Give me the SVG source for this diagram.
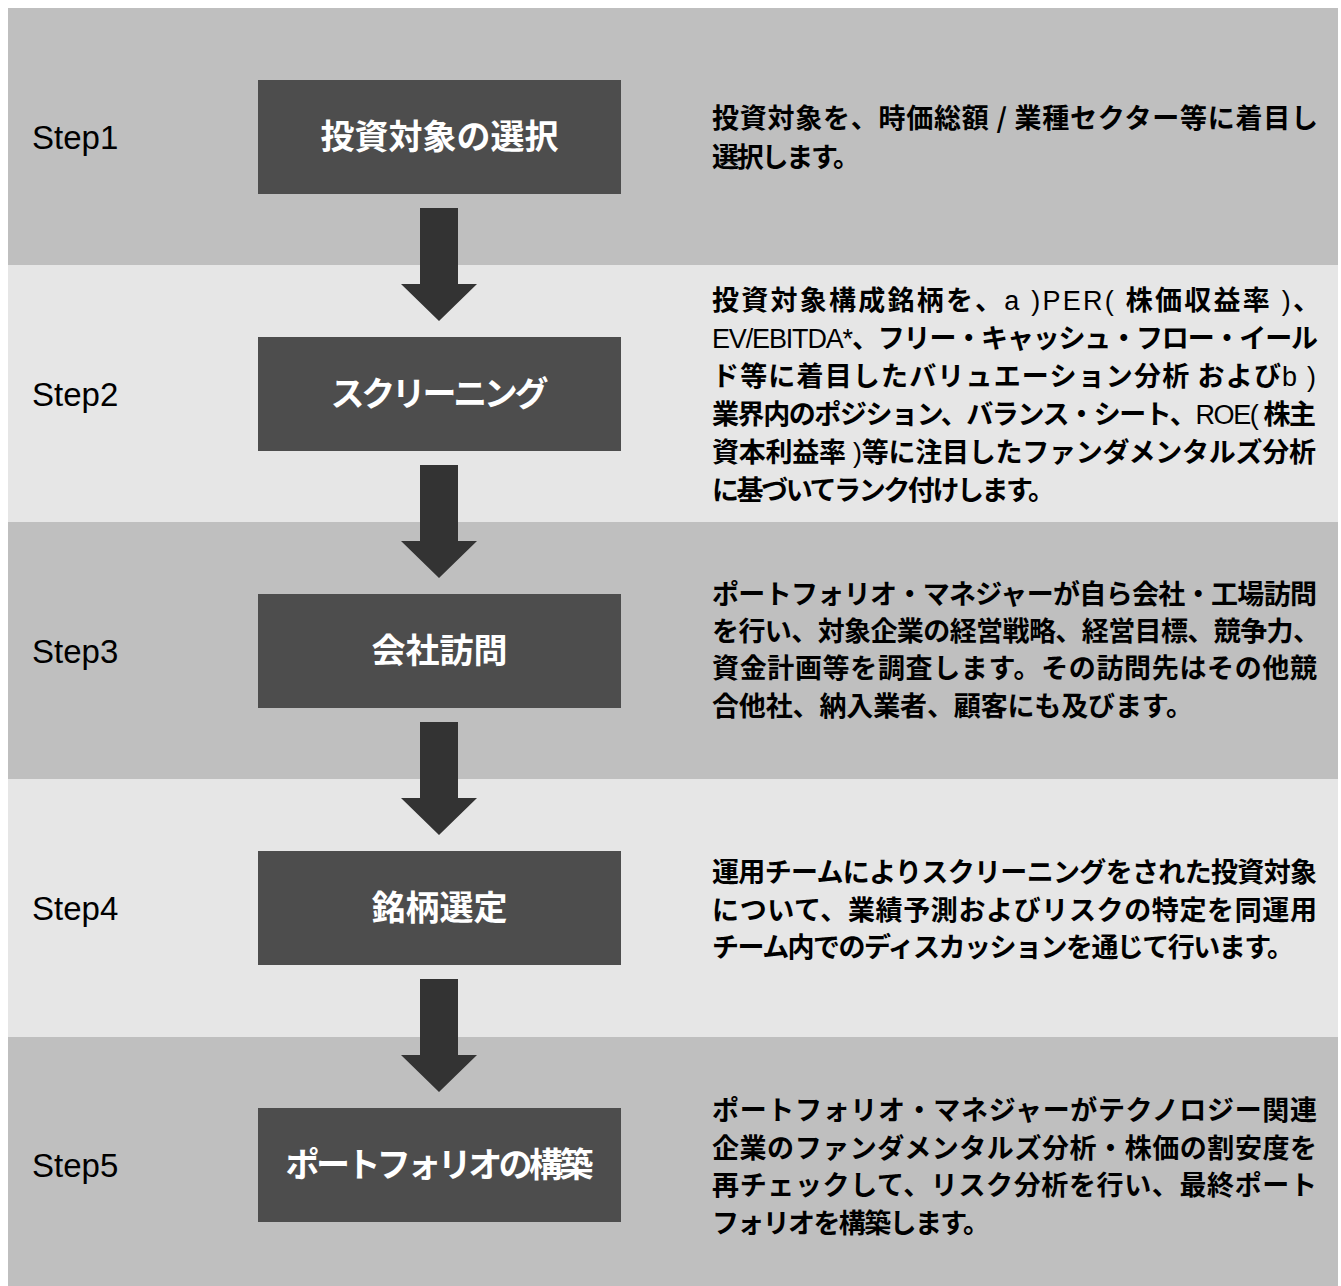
<svg xmlns="http://www.w3.org/2000/svg" width="1341" height="1286" viewBox="0 0 1341 1286">
<style>
.bd{fill:#bfbfbf}.bl{fill:#e6e6e6}
.box{fill:#4d4d4d}
.step{font-family:"Liberation Sans",Arial,sans-serif;font-size:33px;fill:#000}
.bt{font-family:"Noto Sans CJK JP",sans-serif;font-size:34px;font-weight:bold;fill:#fff;text-anchor:middle}
.dt{font-family:"Noto Sans CJK JP",sans-serif;font-size:27px;font-weight:bold;fill:#000}
.lt{font-family:"Liberation Sans",Arial,sans-serif;font-weight:normal}
.arr{fill:#333}
</style>
<defs>
<path id="arrow" d="M420,208 H458 V284 H477 L439,321 L401,284 H420 Z"/>
</defs>
<g id="bands">
<rect class="bd" x="8" y="8" width="1330" height="257"/>
<rect class="bl" x="8" y="265" width="1330" height="257"/>
<rect class="bd" x="8" y="522" width="1330" height="257"/>
<rect class="bl" x="8" y="779" width="1330" height="258"/>
<rect class="bd" x="8" y="1037" width="1330" height="249"/>
</g>
<g id="connectors" class="arr">
<use href="#arrow"/>
<use href="#arrow" transform="translate(0,257)"/>
<use href="#arrow" transform="translate(0,514)"/>
<use href="#arrow" transform="translate(0,771)"/>
</g>
<g id="step1">
<text class="step" x="32" y="149">Step1</text>
<rect class="box" x="258" y="80" width="363" height="114"/>
<text class="bt" x="439.5" y="149">投資対象の選択</text>
<text class="dt" x="712" y="128" textLength="606" lengthAdjust="spacing">投資対象を、時価総額 / 業種セクター等に着目し</text>
<text class="dt" x="712" y="167" textLength="148" lengthAdjust="spacing">選択します。</text>
</g>
<g id="step2">
<text class="step" x="32" y="406">Step2</text>
<rect class="box" x="258" y="337" width="363" height="114"/>
<text class="bt" x="439.5" y="406" textLength="218" lengthAdjust="spacing">スクリーニング</text>
<text class="dt" x="712" y="310" textLength="608" lengthAdjust="spacing">投資対象構成銘柄を、<tspan class="lt">a )PER( </tspan>株価収益率<tspan class="lt"> )</tspan>、</text>
<text class="dt" x="712" y="348" textLength="606" lengthAdjust="spacing"><tspan class="lt">EV/EBITDA*</tspan>、フリー・キャッシュ・フロー・イール</text>
<text class="dt" x="712" y="386" textLength="604" lengthAdjust="spacing">ド等に着目したバリュエーション分析 および<tspan class="lt">b )</tspan></text>
<text class="dt" x="712" y="424" textLength="604" lengthAdjust="spacing">業界内のポジション、バランス・シート、<tspan class="lt">ROE( </tspan>株主</text>
<text class="dt" x="712" y="462" textLength="604" lengthAdjust="spacing">資本利益率<tspan class="lt"> )</tspan>等に注目したファンダメンタルズ分析</text>
<text class="dt" x="712" y="500" textLength="343" lengthAdjust="spacing">に基づいてランク付けします。</text>
</g>
<g id="step3">
<text class="step" x="32" y="663">Step3</text>
<rect class="box" x="258" y="594" width="363" height="114"/>
<text class="bt" x="439.5" y="663">会社訪問</text>
<text class="dt" x="712" y="604" textLength="605" lengthAdjust="spacing">ポートフォリオ・マネジャーが自ら会社・工場訪問</text>
<text class="dt" x="712" y="641" textLength="608" lengthAdjust="spacing">を行い、対象企業の経営戦略、経営目標、競争力、</text>
<text class="dt" x="712" y="678" textLength="605" lengthAdjust="spacing">資金計画等を調査します。その訪問先はその他競</text>
<text class="dt" x="712" y="716" textLength="481" lengthAdjust="spacing">合他社、納入業者、顧客にも及びます。</text>
</g>
<g id="step4">
<text class="step" x="32" y="920">Step4</text>
<rect class="box" x="258" y="851" width="363" height="114"/>
<text class="bt" x="439.5" y="920">銘柄選定</text>
<text class="dt" x="712" y="882" textLength="605" lengthAdjust="spacing">運用チームによりスクリーニングをされた投資対象</text>
<text class="dt" x="712" y="920" textLength="605" lengthAdjust="spacing">について、業績予測およびリスクの特定を同運用</text>
<text class="dt" x="712" y="957" textLength="582" lengthAdjust="spacing">チーム内でのディスカッションを通じて行います。</text>
</g>
<g id="step5">
<text class="step" x="32" y="1177">Step5</text>
<rect class="box" x="258" y="1108" width="363" height="114"/>
<text class="bt" x="439.5" y="1177" textLength="308" lengthAdjust="spacing">ポートフォリオの構築</text>
<text class="dt" x="712" y="1120" textLength="605" lengthAdjust="spacing">ポートフォリオ・マネジャーがテクノロジー関連</text>
<text class="dt" x="712" y="1158" textLength="605" lengthAdjust="spacing">企業のファンダメンタルズ分析・株価の割安度を</text>
<text class="dt" x="712" y="1195" textLength="605" lengthAdjust="spacing">再チェックして、リスク分析を行い、最終ポート</text>
<text class="dt" x="712" y="1233" textLength="278" lengthAdjust="spacing">フォリオを構築します。</text>
</g>
</svg>
